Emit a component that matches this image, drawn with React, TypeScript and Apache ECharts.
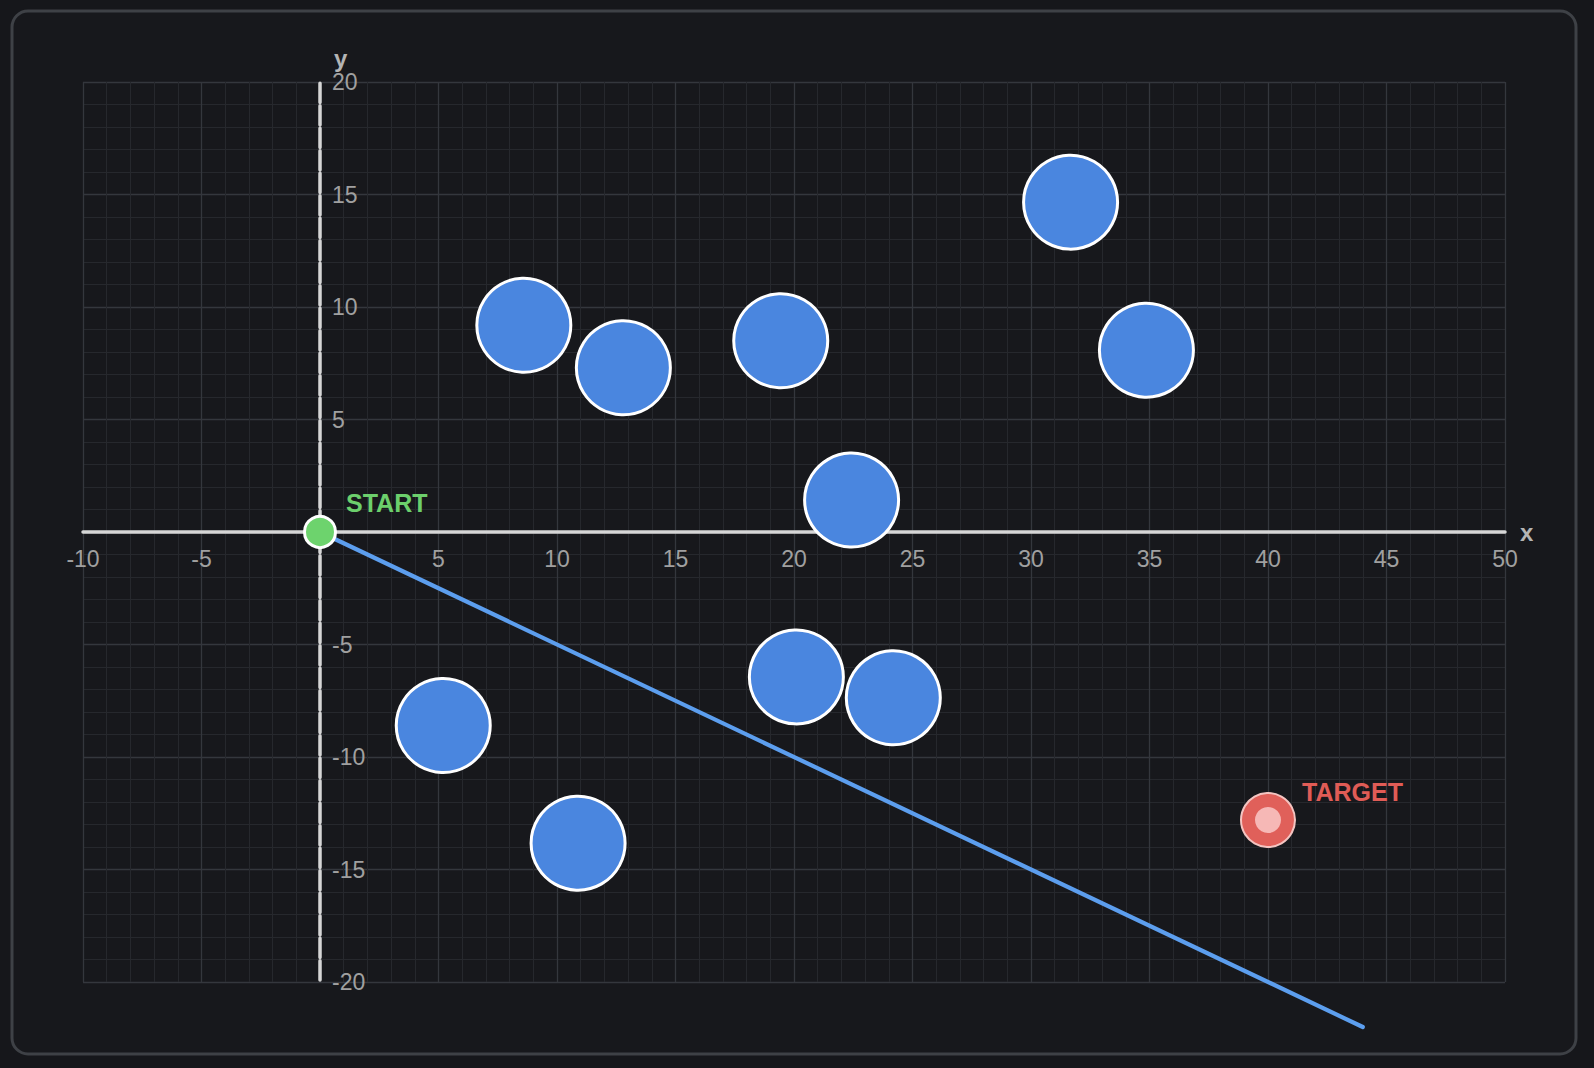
import React, { useEffect, useRef } from "react";
import * as echarts from "echarts";

// Axis ranges and tick step
const X_RANGE = [-10, 50];
const Y_RANGE = [-20, 20];
const TICK_STEP = 5;

// Obstacles (circle centres)
const obstacleX = [8.6, 12.8, 19.44, 31.67, 34.87, 22.43, 20.1, 24.19, 5.2, 10.89];
const obstacleY = [9.19, 7.3, 8.5, 14.66, 8.08, 1.42, -6.44, -7.37, -8.6, -13.83];

// Start and target points
const startPoint = [0, 0];
const startLabel = "START";
const targetPoint = [40, -12.8];
const targetLabel = "TARGET";

// Path (straight ray from start)
const pathX = [0, 44];
const pathY = [0, -22];

const FONT = "'Liberation Sans', Arial, Helvetica, sans-serif";

const W = 1594;
const H = 1068;
const GRID = { left: 83, right: 89, top: 82, bottom: 86 };

export default function App() {
  const ref = useRef<HTMLDivElement>(null);

  useEffect(() => {
    document.body.style.margin = "0";
    document.body.style.background = "#16171b";
    const chart = echarts.init(ref.current!, undefined, { renderer: "svg" });

    const labelFmt = (v: number) => (v === 0 ? "" : String(v));

    // place the labelled axes at the origin (through the other axis' zero)
    const gridW = W - GRID.left - GRID.right;
    const gridH = H - GRID.top - GRID.bottom;
    const yAxisOffset = -gridW * ((0 - X_RANGE[0]) / (X_RANGE[1] - X_RANGE[0]));
    const xAxisOffset = -gridH * ((0 - Y_RANGE[0]) / (Y_RANGE[1] - Y_RANGE[0]));
    const yUnitPx = gridH / (Y_RANGE[1] - Y_RANGE[0]);

    const gridAxisCommon = {
      type: "value" as const,
      interval: TICK_STEP,
      axisLine: { show: false },
      axisTick: { show: false },
      axisLabel: { show: false },
      splitLine: { show: true, lineStyle: { color: "#34373d", width: 1.3 } },
      minorTick: { show: false, splitNumber: 5 },
      minorSplitLine: { show: true, lineStyle: { color: "#26282d", width: 1 } },
      z: 0,
    };

    const option: any = {
      animation: false,
      backgroundColor: "#16171b",
      textStyle: { fontFamily: FONT },
      graphic: [
        {
          type: "rect",
          silent: true,
          z: -10,
          shape: { x: 12, y: 11, width: 1564, height: 1043, r: 16 },
          style: { fill: "#17181c", stroke: "#3e4146", lineWidth: 3 },
        },
      ],
      grid: { ...GRID, containLabel: false },
      xAxis: [
        { ...gridAxisCommon, position: "bottom", min: X_RANGE[0], max: X_RANGE[1] },
        {
          type: "value",
          position: "bottom",
          offset: xAxisOffset,
          min: X_RANGE[0],
          max: X_RANGE[1],
          interval: TICK_STEP,
          z: 5,
          name: "x",
          nameLocation: "end",
          nameGap: 15,
          nameTextStyle: { color: "#b4b4b4", fontSize: 24, fontWeight: "bold", fontFamily: FONT },
          axisLine: { show: true, onZero: false, lineStyle: { color: "#d6d6d6", width: 3.5 } },
          axisTick: { show: false },
          splitLine: { show: false },
          axisLabel: {
            show: true,
            formatter: labelFmt,
            color: "#a0a0a0",
            fontSize: 23,
            margin: 15,
            fontFamily: FONT,
            showMinLabel: true,
            showMaxLabel: true,
          },
        },
      ],
      yAxis: [
        { ...gridAxisCommon, position: "left", min: Y_RANGE[0], max: Y_RANGE[1] },
        {
          type: "value",
          position: "left",
          offset: yAxisOffset,
          min: Y_RANGE[0],
          max: Y_RANGE[1],
          interval: TICK_STEP,
          z: 5,
          name: "y",
          nameLocation: "end",
          nameGap: 8,
          nameTextStyle: {
            color: "#b4b4b4",
            fontSize: 24,
            fontWeight: "bold",
            fontFamily: FONT,
            align: "left",
            padding: [0, 0, 0, 14],
          },
          axisLine: {
            show: true,
            onZero: false,
            lineStyle: {
              color: "#d6d6d6",
              width: 3.5,
              type: [yUnitPx - 3.2, 3.2],
              dashOffset: -1.6,
            },
          },
          axisTick: { show: false },
          splitLine: { show: false },
          axisLabel: {
            show: true,
            inside: true,
            formatter: labelFmt,
            color: "#a0a0a0",
            fontSize: 23,
            margin: 12,
            fontFamily: FONT,
            showMinLabel: true,
            showMaxLabel: true,
          },
        },
      ],
      series: [
        {
          type: "line",
          xAxisIndex: 1,
          yAxisIndex: 1,
          z: 10,
          clip: false,
          symbol: "none",
          data: pathX.map((x, i) => [x, pathY[i]]),
          lineStyle: { color: "#5c9eee", width: 4.2, cap: "round" },
        },
        {
          type: "scatter",
          xAxisIndex: 1,
          yAxisIndex: 1,
          z: 11,
          symbol: "circle",
          symbolSize: 94,
          data: obstacleX.map((x, i) => [x, obstacleY[i]]),
          itemStyle: { color: "#4a86df", borderColor: "#ffffff", borderWidth: 3, opacity: 1 },
        },
        {
          type: "scatter",
          xAxisIndex: 1,
          yAxisIndex: 1,
          z: 12,
          symbol: "circle",
          symbolSize: 31,
          data: [startPoint],
          itemStyle: { color: "#6dd36d", borderColor: "#ffffff", borderWidth: 3, opacity: 1 },
          label: {
            show: true,
            formatter: startLabel,
            position: "right",
            distance: 9,
            offset: [0, -29],
            color: "#6ccf6c",
            fontSize: 25,
            fontWeight: "bold",
            fontFamily: FONT,
          },
        },
        {
          type: "scatter",
          xAxisIndex: 1,
          yAxisIndex: 1,
          z: 12,
          symbol: "circle",
          symbolSize: 54,
          data: [targetPoint],
          itemStyle: { color: "#e0605a", borderColor: "#f4c4c1", borderWidth: 2, opacity: 1 },
          label: {
            show: true,
            formatter: targetLabel,
            position: "right",
            distance: 6,
            offset: [0, -28],
            color: "#e05c56",
            fontSize: 25,
            fontWeight: "bold",
            fontFamily: FONT,
          },
        },
        {
          type: "scatter",
          xAxisIndex: 1,
          yAxisIndex: 1,
          z: 13,
          symbol: "circle",
          symbolSize: 26,
          silent: true,
          data: [targetPoint],
          itemStyle: { color: "#f6b8b6", opacity: 1 },
        },
      ],
    };

    chart.setOption(option);
    return () => chart.dispose();
  }, []);

  return (
    <div
      ref={ref}
      style={{ position: "fixed", left: 0, top: 0, width: W, height: H }}
    />
  );
}
